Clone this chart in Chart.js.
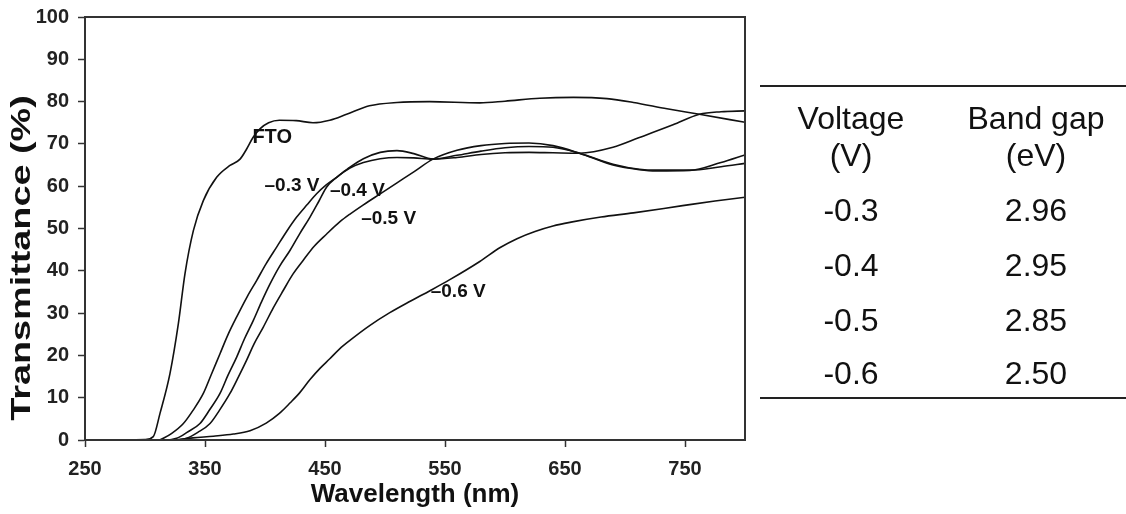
<!DOCTYPE html>
<html>
<head>
<meta charset="utf-8">
<script src="https://cdn.jsdelivr.net/npm/chart.js@4.4.1/dist/chart.umd.min.js"></script>
<style>
  html, body { margin: 0; padding: 0; background: #fff; }
  #wrap { position: relative; width: 1126px; height: 514px; overflow: hidden; }
  #grafico { position: absolute; left: 0; top: 0; }
  .rule { position: absolute; left: 760px; width: 366px; height: 2px; background: #222; }
  .cell { position: absolute; width: 200px; margin-left: -100px; text-align: center;
          font-family: "Liberation Sans", Arial, sans-serif; font-size: 32px; color: #111;
          line-height: 36px; margin-top: -18px; }
</style>
</head>
<body>
<div id="wrap">
  <canvas id="grafico" width="1126" height="514"></canvas>
  <div id="tabela"></div>
</div>
<script>
// dados do gráfico: comprimento de onda (nm) e transmitância (%)
const ftoNm = [285, 300, 306.9, 312.5, 320.8, 327.8, 333.3, 340.3, 348.6, 359.7, 370.8, 379.2, 384.7, 390, 396, 403, 412, 426, 440, 454, 468, 487, 510, 537, 579, 600, 629, 657, 685, 707, 735, 762, 800];
const ftoT = [0, 0.1, 0.8, 6.3, 15.7, 27.5, 39.3, 49.5, 56.6, 62.1, 64.9, 66.4, 68.8, 71.5, 73.6, 75, 75.6, 75.5, 75.0, 75.6, 77, 79, 79.8, 80.0, 79.7, 80.1, 80.8, 81, 80.7, 79.8, 78.3, 77.0, 75.1];

const v03Nm = [312, 315.3, 322, 332, 340, 348.6, 355, 362.5, 369, 376.4, 385, 393, 401, 409.7, 418, 426.4, 435, 443, 451, 459.7, 470.8, 482, 496, 510, 524, 540, 560, 580, 600, 620, 640, 662, 690, 712, 740, 762, 780, 800];
const v03T = [0, 0.4, 1.5, 3.9, 7, 11, 15.3, 20.4, 24.8, 29.1, 33.8, 37.7, 41.7, 45.6, 49.3, 52.7, 55.6, 58.2, 60.3, 62.1, 64.5, 66.5, 68, 68.4, 67.7, 66.4, 66.8, 67.5, 67.9, 68, 67.9, 67.8, 69.2, 71.5, 74.5, 77, 77.6, 77.8];

const v04Nm = [320, 326.4, 335, 345.8, 354, 362.5, 369, 376.4, 383, 390.3, 397, 404.2, 412, 420.8, 429, 437.5, 445, 451.4, 459.7, 470.8, 482, 496, 510, 524, 540, 560, 580, 600, 620, 640, 662, 690, 712, 726, 754, 780, 800];
const v04T = [0, 0.4, 1.8, 3.9, 7.2, 11, 15.2, 19.6, 24, 28.3, 32.6, 36.9, 41, 44.8, 48.8, 52.7, 56.5, 59.8, 62.1, 64.3, 65.6, 66.5, 66.8, 66.7, 66.4, 67.3, 68.3, 69.1, 69.4, 69.2, 67.8, 65.2, 64, 63.8, 63.8, 64.6, 65.4];

const v05Nm = [327, 334.7, 344, 354.2, 362, 370.8, 378, 384.7, 391, 398.6, 407, 415.3, 423, 431.9, 441, 451.4, 462.5, 470.8, 482, 496, 510, 524, 540, 560, 580, 600, 620, 640, 662, 690, 712, 726, 754, 780, 800];
const v05T = [0, 0.4, 1.8, 3.9, 7, 11, 15, 18.9, 22.8, 26.7, 31.3, 35.4, 39.1, 42.5, 45.8, 48.7, 51.6, 53.4, 55.6, 58.2, 60.8, 63.4, 66.4, 68.5, 69.6, 70.1, 70.2, 69.6, 67.8, 65, 63.9, 63.6, 63.7, 65.6, 67.4];

const v06Nm = [325, 340, 357, 373.6, 387.5, 401, 412, 421, 429, 437.5, 446, 454, 462, 471, 487.5, 504, 521, 537.5, 554, 579, 596, 610, 625, 640, 655, 680, 707, 748, 775, 800];
const v06T = [0, 0.5, 0.9, 1.4, 2.2, 4.0, 6.3, 8.8, 11.2, 14.3, 17, 19.2, 21.5, 23.6, 27.1, 30.1, 32.8, 35.3, 37.9, 42.2, 45.5, 47.6, 49.3, 50.6, 51.5, 52.7, 53.7, 55.4, 56.5, 57.4];

// marcas dos eixos
const xTicks = [250, 350, 450, 550, 650, 750];

// rótulos das curvas (texto, nm, %)
const curveLabels = [
    ['FTO', 406, 71.5],
    ['\u20130.3 V', 422.5, 60.1],
    ['\u20130.4 V', 477, 59],
    ['\u20130.5 V', 503, 52.4],
    ['\u20130.6 V', 561, 35.1]
];

// tabela de band gap
const voltages = ['-0.3', '-0.4', '-0.5', '-0.6'];
const bandGaps = ['2.96', '2.95', '2.85', '2.50'];

function pares(xs, ys) {
    return xs.map((x, i) => ({ x: x, y: ys[i] }));
}

function serie(label, xs, ys) {
    return {
        label: label,
        data: pares(xs, ys),
        borderColor: '#111',
        borderWidth: 1.6,
        pointRadius: 0,
        fill: false,
        cubicInterpolationMode: 'monotone'
    };
}

let data = {
    datasets: [
        serie('FTO', ftoNm, ftoT),
        serie('-0.3 V', v03Nm, v03T),
        serie('-0.4 V', v04Nm, v04T),
        serie('-0.5 V', v05Nm, v05T),
        serie('-0.6 V', v06Nm, v06T)
    ]
};

const fonte = '"Liberation Sans", Arial, sans-serif';

// moldura, rótulos das curvas e título do eixo y (esticado como no original)
const extras = {
    id: 'extras',
    afterDatasetsDraw(chart) {
        const ctx = chart.ctx;
        const a = chart.chartArea;
        ctx.save();
        ctx.strokeStyle = '#333';
        ctx.lineWidth = 2;
        ctx.strokeRect(a.left, a.top, a.right - a.left, a.bottom - a.top);
        ctx.fillStyle = '#111';
        ctx.textAlign = 'center';
        ctx.textBaseline = 'middle';
        curveLabels.forEach(l => {
            ctx.font = 'bold ' + (l[0] === 'FTO' ? 20 : 19) + 'px ' + fonte;
            ctx.fillText(l[0], chart.scales.x.getPixelForValue(l[1]), chart.scales.y.getPixelForValue(l[2]));
        });
        ctx.translate(23, 258);
        ctx.rotate(-Math.PI / 2);
        ctx.scale(1.4, 1);
        ctx.font = 'bold 27px ' + fonte;
        ctx.fillText('Transmittance (%)', 0, 0);
        ctx.restore();
    }
};

var options = {
    responsive: false,
    animation: false,
    layout: { padding: { top: 17, right: 381, left: 0, bottom: 0 } },
    plugins: { legend: { display: false }, tooltip: { enabled: false } },
    scales: {
        x: {
            type: 'linear',
            min: 250,
            max: 800,
            afterBuildTicks: s => { s.ticks = xTicks.map(v => ({ value: v })); },
            afterFit: s => { s.height = 74; },
            grid: { drawOnChartArea: false, tickLength: 7, tickColor: '#333', tickWidth: 1.5 },
            border: { color: '#333', width: 2 },
            ticks: { color: '#222', padding: 10, maxRotation: 0, font: { family: fonte, size: 20, weight: 'bold' } },
            title: { display: true, text: 'Wavelength (nm)', color: '#111', padding: { top: 0, bottom: 4 },
                     font: { family: fonte, size: 26, weight: 'bold' } }
        },
        y: {
            min: 0,
            max: 100,
            afterFit: s => { s.width = 85; s.paddingTop = 0; s.paddingBottom = 0; },
            grid: { drawOnChartArea: false, tickLength: 7, tickColor: '#333', tickWidth: 1.5 },
            border: { color: '#333', width: 2 },
            ticks: { stepSize: 10, color: '#222', padding: 9, font: { family: fonte, size: 20, weight: 'bold' } }
        }
    }
};

let ctx = document.querySelector('#grafico').getContext('2d');
let lineChart = new Chart(ctx, {
    type: 'line',
    data: data,
    options: options,
    plugins: [extras]
});

// tabela à direita
const tabela = document.querySelector('#tabela');
const col1 = 851, col2 = 1036;
const linhas = [['Voltage', 'Band gap'], ['(V)', '(eV)']].concat(voltages.map((v, i) => [v, bandGaps[i]]));
const topos = [118, 155, 210, 265, 320, 373];
linhas.forEach((l, i) => {
    [[l[0], col1], [l[1], col2]].forEach(c => {
        const d = document.createElement('div');
        d.className = 'cell';
        d.style.left = c[1] + 'px';
        d.style.top = topos[i] + 'px';
        d.textContent = c[0];
        tabela.appendChild(d);
    });
});
[85, 397].forEach(y => {
    const r = document.createElement('div');
    r.className = 'rule';
    r.style.top = y + 'px';
    tabela.appendChild(r);
});
</script>
</body>
</html>
